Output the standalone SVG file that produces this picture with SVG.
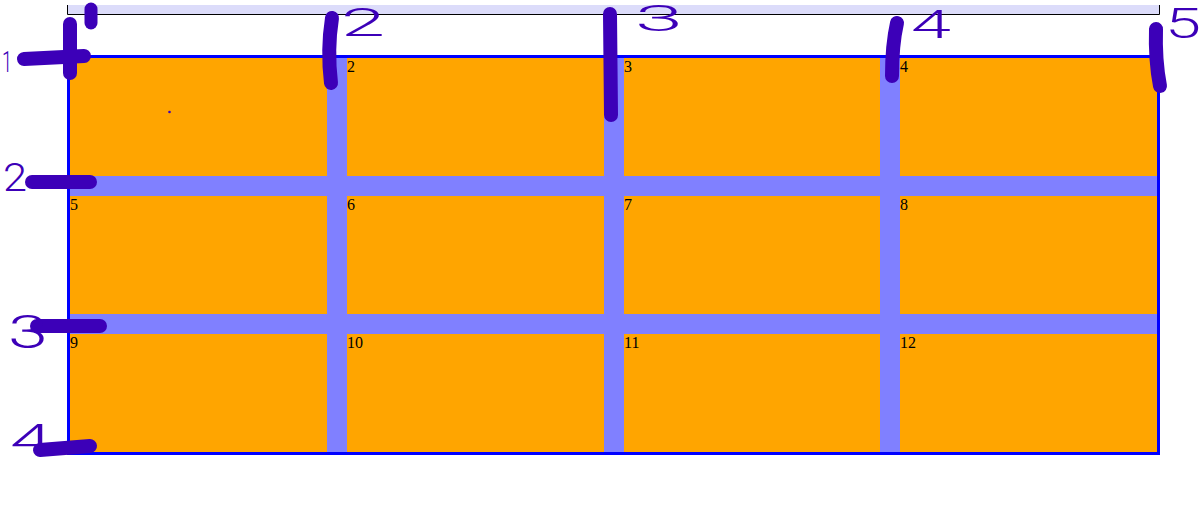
<svg xmlns="http://www.w3.org/2000/svg" width="1204" height="527" viewBox="0 0 1204 527">
  <style>
    .cell { fill: #ffa500; }
    .lbl { font-family: "Liberation Serif", "Times New Roman", serif; font-size: 16px; fill: #000; }
    .ink { fill: none; stroke: #3c00b8; stroke-linecap: round; stroke-linejoin: round; }
    .thick { stroke-width: 14; }
    .hw { font-family: Roboto, "Open Sans", "DejaVu Sans", sans-serif; font-weight: 300; fill: #3c00b8; }
  </style>
  <rect width="1204" height="527" fill="#ffffff"/>

  <g id="top-bar">
    <rect x="67" y="5" width="1092" height="9.5" fill="#dcdcfa"/>
    <path d="M67.5 5 V14.5 H1159.5 V5" fill="none" stroke="#000" stroke-width="1"/>
  </g>

  <g id="grid">
    <rect x="70" y="58" width="1087" height="394" fill="#8080ff"/>
  </g>

  <g id="cell-1"><rect class="cell" x="70" y="58" width="257" height="118"/></g>
  <g id="cell-2"><rect class="cell" x="347" y="58" width="257" height="118"/><text class="lbl" x="347" y="72">2</text></g>
  <g id="cell-3"><rect class="cell" x="624" y="58" width="256" height="118"/><text class="lbl" x="624" y="72">3</text></g>
  <g id="cell-4"><rect class="cell" x="900" y="58" width="257" height="118"/><text class="lbl" x="900" y="72">4</text></g>

  <g id="cell-5"><rect class="cell" x="70" y="196" width="257" height="118"/><text class="lbl" x="70" y="210">5</text></g>
  <g id="cell-6"><rect class="cell" x="347" y="196" width="257" height="118"/><text class="lbl" x="347" y="210">6</text></g>
  <g id="cell-7"><rect class="cell" x="624" y="196" width="256" height="118"/><text class="lbl" x="624" y="210">7</text></g>
  <g id="cell-8"><rect class="cell" x="900" y="196" width="257" height="118"/><text class="lbl" x="900" y="210">8</text></g>

  <g id="cell-9"><rect class="cell" x="70" y="334" width="257" height="118"/><text class="lbl" x="70" y="348">9</text></g>
  <g id="cell-10"><rect class="cell" x="347" y="334" width="257" height="118"/><text class="lbl" x="347" y="348">10</text></g>
  <g id="cell-11"><rect class="cell" x="624" y="334" width="256" height="118"/><text class="lbl" x="624" y="348">11</text></g>
  <g id="cell-12"><rect class="cell" x="900" y="334" width="257" height="118"/><text class="lbl" x="900" y="348">12</text></g>

  <g id="grid-border">
    <rect x="68.5" y="56.5" width="1090" height="397" fill="none" stroke="#0000ff" stroke-width="3"/>
  </g>

  <g id="connectors">
    <path class="ink thick" d="M70 24 L70 73"/>
    <path class="ink thick" d="M24 59 L84 56"/>
    <path class="ink" stroke-width="13" d="M91 9 L91 23"/>
    <path class="ink thick" d="M332 18 Q327 50 331 83"/>
    <path class="ink thick" d="M610 14 L611 115"/>
    <path class="ink thick" d="M897 23 Q892 45 892 76"/>
    <path class="ink thick" d="M1156 29 Q1155 60 1160 86"/>
    <path class="ink thick" d="M32 182 L90 182"/>
    <path class="ink thick" d="M37 326 L100 326"/>
    <path class="ink thick" d="M40 450 L90 446"/>
    <circle cx="169.5" cy="112" r="1.3" fill="#3c00b8"/>
  </g>

  <g id="handwritten-numbers">
    <text class="hw" x="2" y="72" font-size="30" textLength="10" lengthAdjust="spacingAndGlyphs">1</text>
    <text class="hw" x="341" y="36" font-size="38" textLength="44" lengthAdjust="spacingAndGlyphs">2</text>
    <text class="hw" x="635" y="31" font-size="36" textLength="48" lengthAdjust="spacingAndGlyphs">3</text>
    <text class="hw" x="911" y="38" font-size="39" textLength="40" lengthAdjust="spacingAndGlyphs">4</text>
    <text class="hw" x="1165" y="38" font-size="42" textLength="36" lengthAdjust="spacingAndGlyphs">5</text>
    <text class="hw" x="3" y="191" font-size="38" textLength="24" lengthAdjust="spacingAndGlyphs">2</text>
    <text class="hw" x="8" y="348" font-size="47" textLength="40" lengthAdjust="spacingAndGlyphs">3</text>
    <text class="hw" x="10" y="454" font-size="42" textLength="42" lengthAdjust="spacingAndGlyphs">4</text>
  </g>
</svg>
